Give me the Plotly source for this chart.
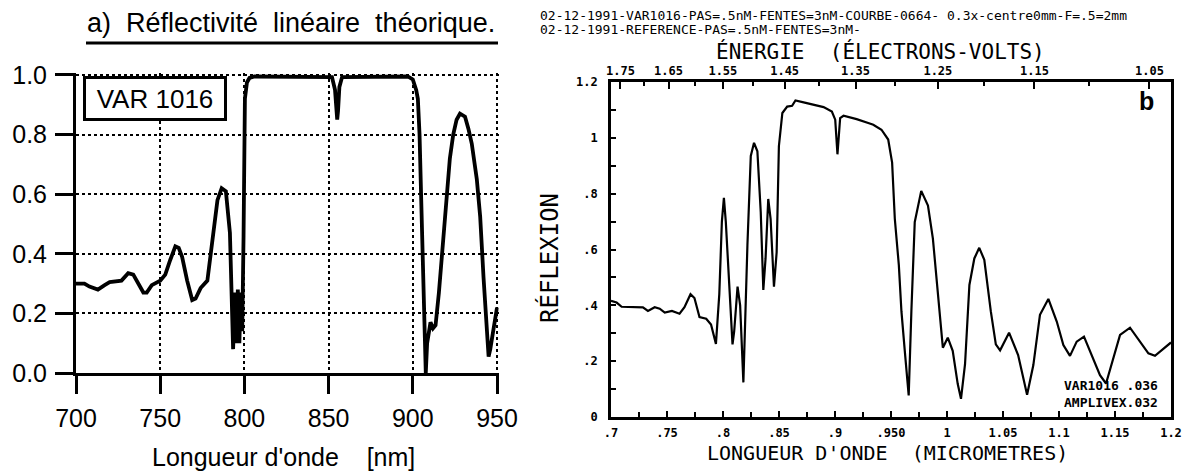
import plotly.graph_objects as go

# ---------------- data : panel a (theoretical linear reflectivity) ----------------
wl_a = [700, 705, 708, 713, 717, 720, 727, 731, 734, 737, 740, 742, 745, 750, 753, 756,
        759, 761, 763, 766, 769, 771, 774, 778, 779.6, 782, 784, 786.5, 789, 791.4, 792.8,
        793.3, 794.3, 795.2, 796.1, 797.0, 797.9, 798.7, 799.5, 800.3, 801.5, 803, 806,
        830, 852, 853.8, 854.6, 855.1, 855.6, 856.4, 858, 880, 897, 900, 902, 903, 904,
        905, 906, 907, 907.7, 908.5, 910.5, 912, 913.5, 915.5, 918, 920, 922, 924, 926,
        928, 931, 933, 935, 938, 940, 942, 944, 945, 946, 947.5, 950]
refl_a = [0.30, 0.30, 0.29, 0.28, 0.295, 0.305, 0.31, 0.335, 0.33, 0.30, 0.27, 0.27, 0.295,
          0.31, 0.33, 0.38, 0.425, 0.42, 0.39, 0.31, 0.245, 0.25, 0.285, 0.31, 0.38, 0.49,
          0.58, 0.62, 0.61, 0.47, 0.24, 0.08, 0.27, 0.10, 0.28, 0.10, 0.27, 0.14, 0.46,
          0.92, 0.975, 0.99, 0.995, 0.995, 0.993, 0.95, 0.87, 0.85, 0.88, 0.96, 0.993,
          0.995, 0.995, 0.985, 0.95, 0.92, 0.80, 0.58, 0.36, 0.13, 0.0, 0.10, 0.17, 0.15,
          0.16, 0.27, 0.45, 0.58, 0.72, 0.80, 0.85, 0.87, 0.86, 0.82, 0.77, 0.65, 0.525,
          0.32, 0.13, 0.055, 0.08, 0.13, 0.22]
xticks_a = [700, 750, 800, 850, 900, 950]
yticks_a = [0.0, 0.2, 0.4, 0.6, 0.8, 1.0]

# ---------------- data : panel b (measured reflexion) ----------------
wl_b = [0.700, 0.705, 0.7095, 0.7285, 0.733, 0.739, 0.7435, 0.748, 0.7544, 0.7612, 0.7656,
        0.771, 0.7745, 0.779, 0.785, 0.7893, 0.7937, 0.7967, 0.799, 0.8008, 0.8025, 0.8045,
        0.8085, 0.810, 0.813, 0.8153, 0.8182, 0.8218, 0.8248, 0.8277, 0.8307, 0.8337, 0.836,
        0.838, 0.8404, 0.8425, 0.8455, 0.8479, 0.8499, 0.853, 0.8573, 0.8617, 0.8647, 0.872,
        0.881, 0.8898, 0.8972, 0.9002, 0.9022, 0.9046, 0.9076, 0.9193, 0.9297, 0.9342,
        0.9415, 0.9475, 0.951, 0.9534, 0.957, 0.9593, 0.9623, 0.9658, 0.9682, 0.9712, 0.977,
        0.983, 0.9874, 0.9918, 0.9963, 1.0007, 1.0051, 1.0096, 1.0125, 1.0161, 1.020, 1.0244,
        1.0288, 1.0333, 1.0391, 1.0436, 1.0474, 1.0554, 1.0635, 1.0715, 1.0771, 1.083,
        1.0905, 1.098, 1.1039, 1.1098, 1.1158, 1.1223, 1.1292, 1.1366, 1.142, 1.147, 1.1545,
        1.1634, 1.1723, 1.1798, 1.1857, 1.1932, 1.2]
refl_b = [0.416, 0.410, 0.395, 0.393, 0.380, 0.393, 0.388, 0.374, 0.380, 0.370, 0.393,
          0.440, 0.426, 0.358, 0.352, 0.331, 0.262, 0.44, 0.70, 0.785, 0.70, 0.55,
          0.26, 0.308, 0.467, 0.40, 0.124, 0.615, 0.935, 0.982, 0.952, 0.734, 0.455,
          0.568, 0.781, 0.71, 0.467, 0.59, 0.97, 1.089, 1.112, 1.115, 1.134, 1.127,
          1.118, 1.110, 1.094, 1.065, 0.941, 1.071, 1.079, 1.067, 1.053, 1.047,
          1.029, 0.994, 0.911, 0.71, 0.544, 0.379, 0.237, 0.077, 0.379, 0.698, 0.81,
          0.757, 0.639, 0.438, 0.248, 0.284, 0.237, 0.118, 0.065, 0.189, 0.473, 0.568,
          0.606, 0.563, 0.379, 0.26, 0.239, 0.302, 0.222, 0.08, 0.186, 0.366,
          0.423, 0.342, 0.258, 0.219, 0.27, 0.288, 0.222, 0.15, 0.12, 0.186, 0.294,
          0.32, 0.27, 0.228, 0.219, 0.246, 0.267]
xticks_b = [0.7, 0.75, 0.8, 0.85, 0.9, 0.95, 1.0, 1.05, 1.1, 1.15, 1.2]
xticklabels_b = [".7", ".75", ".8", ".85", ".9", ".950", "1", "1.05", "1.1", "1.15", "1.2"]
yticks_b = [0, 0.2, 0.4, 0.6, 0.8, 1.0, 1.2]
yticklabels_b = ["0", ".2", ".4", ".6", ".8", "1", "1.2"]
energy_major = [1.75, 1.65, 1.55, 1.45, 1.35, 1.25, 1.15, 1.05]
energy_labels = ["1.75", "1.65", "1.55", "1.45", "1.35", "1.25", "1.15", "1.05"]
energy_minor = [1.70, 1.60, 1.50, 1.40, 1.30, 1.20, 1.10]
HC = 1.2398  # eV * micrometre

header1 = "02-12-1991-VAR1016-PAS=.5nM-FENTES=3nM-COURBE-0664- 0.3x-centre0mm-F=.5=2mm"
header2 = "02-12-1991-REFERENCE-PAS=.5nM-FENTES=3nM-"

# ---------------- geometry helpers (page body has an 8 px margin) ----------------
W, H = 1196, 474
OFF = 8
def fx(px):
    return (px - OFF) / W
def fy(py):
    return 1 - (py - OFF) / H

SANS = "Liberation Sans"
MONO = "DejaVu Sans Mono"

fig = go.Figure()
fig.add_trace(go.Scatter(x=wl_a, y=refl_a, mode="lines", line=dict(color="black", width=3.8),
                         xaxis="x", yaxis="y", hoverinfo="skip"))
fig.add_trace(go.Scatter(x=wl_b, y=refl_b, mode="lines", line=dict(color="black", width=2.2),
                         xaxis="x2", yaxis="y2", hoverinfo="skip"))
fig.add_trace(go.Scatter(x=wl_b, y=refl_b, mode="lines", opacity=0, line=dict(width=0),
                         xaxis="x3", yaxis="y2", hoverinfo="skip"))

mid_x_b = [(a + b) / 2 for a, b in zip(xticks_b[:-1], xticks_b[1:])]
mid_y_b = [(a + b) / 2 for a, b in zip(yticks_b[:-1], yticks_b[1:])]

fig.update_layout(
    width=W, height=H, autosize=False, showlegend=False,
    margin=dict(l=0, r=0, t=0, b=0, pad=0, autoexpand=False),
    paper_bgcolor="white", plot_bgcolor="rgba(0,0,0,0)",
    xaxis=dict(domain=[fx(76), fx(498.7)], range=[700, 951], anchor="y", automargin=False,
               tickmode="array", tickvals=xticks_a, ticks="outside", ticklen=18,
               tickwidth=3, tickcolor="black", showline=True, linewidth=3, linecolor="black",
               showgrid=True, griddash="dot", gridcolor="black", gridwidth=1.6,
               zeroline=False, ticklabelstandoff=3,
               tickfont=dict(family=SANS, size=25, color="black")),
    yaxis=dict(domain=[fy(373), fy(73.2)], range=[0, 1.006], anchor="x", automargin=False,
               tickmode="array", tickvals=yticks_a, tickformat=".1f", ticks="outside",
               ticklen=18, tickwidth=3, tickcolor="black", showline=True, linewidth=3,
               linecolor="black", showgrid=True, griddash="dot", gridcolor="black",
               gridwidth=1.6, zeroline=False, ticklabelstandoff=3,
               tickfont=dict(family=SANS, size=25, color="black")),
    xaxis2=dict(domain=[fx(611), fx(1171)], range=[0.7, 1.2], anchor="y2", automargin=False,
                tickmode="array", tickvals=xticks_b, ticktext=xticklabels_b,
                ticks="inside", ticklen=6, tickwidth=2, tickcolor="black",
                minor=dict(tickmode="array", tickvals=mid_x_b, ticks="inside", ticklen=5,
                           tickwidth=2, tickcolor="black"),
                showline=True, mirror=True, linewidth=2.6, linecolor="black",
                showgrid=False, zeroline=False, ticklabelstandoff=3,
                tickfont=dict(family=MONO, size=12, color="black", weight="bold")),
    xaxis3=dict(overlaying="x2", side="top", anchor="y2", range=[0.7, 1.2], automargin=False,
                tickmode="array", tickvals=[HC / e for e in energy_major],
                ticktext=energy_labels, ticks="inside", ticklen=7, tickwidth=2,
                tickcolor="black",
                minor=dict(tickmode="array", tickvals=[HC / e for e in energy_minor],
                           ticks="inside", ticklen=4, tickwidth=1.5, tickcolor="black"),
                showline=False, showgrid=False, zeroline=False, ticklabelstandoff=4,
                tickfont=dict(family=MONO, size=12, color="black", weight="bold")),
    yaxis2=dict(domain=[fy(417), fy(82)], range=[0, 1.2], anchor="x2", automargin=False,
                tickmode="array", tickvals=yticks_b, ticktext=yticklabels_b,
                ticks="inside", ticklen=5, tickwidth=2, tickcolor="black",
                minor=dict(tickmode="array", tickvals=mid_y_b, ticks="inside", ticklen=5,
                           tickwidth=2, tickcolor="black"),
                showline=True, mirror=True, linewidth=2.6, linecolor="black",
                showgrid=False, zeroline=False, ticklabelstandoff=8,
                tickfont=dict(family=MONO, size=12, color="black", weight="bold")),
)

ann = []
# panel a
ann.append(dict(text="a)\u00a0 Réflectivité\u00a0 linéaire\u00a0 théorique.", x=fx(291), y=fy(23),
                xref="paper", yref="paper", showarrow=False, xanchor="center", yanchor="middle",
                font=dict(family=SANS, size=27, color="black")))
ann.append(dict(text="VAR 1016", x=fx(155), y=fy(98.5), xref="paper", yref="paper",
                showarrow=False, xanchor="center", yanchor="middle", width=134, height=35,
                bordercolor="black", borderwidth=3, borderpad=2, bgcolor="white",
                font=dict(family=SANS, size=26, color="black")))
ann.append(dict(text="Longueur d'onde\u00a0\u00a0\u00a0\u00a0[nm]", x=fx(283), y=fy(457),
                xref="paper", yref="paper", showarrow=False, xanchor="center", yanchor="middle",
                font=dict(family=SANS, size=25, color="black")))
# panel b
ann.append(dict(text=header1, x=fx(538), y=fy(15), xref="paper", yref="paper", showarrow=False,
                xanchor="left", yanchor="middle", font=dict(family=MONO, size=13, color="black")))
ann.append(dict(text=header2, x=fx(538), y=fy(29), xref="paper", yref="paper", showarrow=False,
                xanchor="left", yanchor="middle", font=dict(family=MONO, size=13, color="black")))
ann.append(dict(text="ÉNERGIE\u00a0 (ÉLECTRONS-VOLTS)", x=fx(880), y=fy(51), xref="paper",
                yref="paper", showarrow=False, xanchor="center", yanchor="middle",
                font=dict(family=MONO, size=21, color="black")))
ann.append(dict(text="LONGUEUR D'ONDE\u00a0 (MICROMETRES)", x=fx(887), y=fy(453), xref="paper",
                yref="paper", showarrow=False, xanchor="center", yanchor="middle",
                font=dict(family=MONO, size=20, color="black")))
ann.append(dict(text="RÉFLEXION", x=fx(549), y=fy(258), xref="paper", yref="paper",
                showarrow=False, xanchor="center", yanchor="middle", textangle=-90,
                font=dict(family=MONO, size=24, color="black")))
ann.append(dict(text="<b>b</b>", x=fx(1146), y=fy(101), xref="paper", yref="paper",
                showarrow=False, xanchor="center", yanchor="middle",
                font=dict(family=SANS, size=25, color="black")))
ann.append(dict(text="VAR1016 .036", x=fx(1062), y=fy(385), xref="paper", yref="paper",
                showarrow=False, xanchor="left", yanchor="middle",
                font=dict(family=MONO, size=13, color="black", weight="bold")))
ann.append(dict(text="AMPLIVEX.032", x=fx(1062), y=fy(402), xref="paper", yref="paper",
                showarrow=False, xanchor="left", yanchor="middle",
                font=dict(family=MONO, size=13, color="black", weight="bold")))
fig.update_layout(annotations=ann)

fig.add_shape(type="line", xref="paper", yref="paper", x0=fx(86), x1=fx(498),
              y0=fy(43), y1=fy(43), line=dict(color="black", width=3))

fig.write_html("out.html")
